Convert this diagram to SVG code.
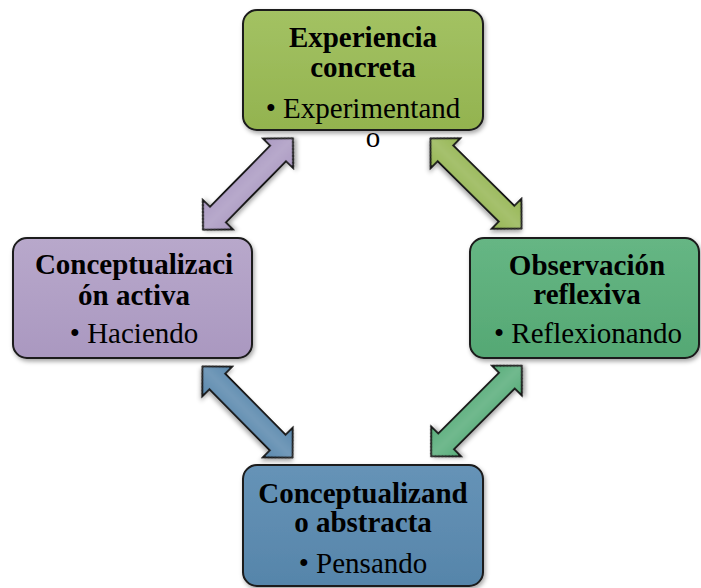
<svg xmlns="http://www.w3.org/2000/svg" width="701" height="588" viewBox="0 0 701 588">
<defs>
<style>
.box{stroke:#1a1a1a;stroke-width:2}
.hl{stroke:#ffffff;stroke-width:3;stroke-linecap:round;opacity:0.85;filter:url(#blur)}
.t{font-family:"Liberation Serif","Times New Roman",serif;font-size:29px;fill:#000;text-anchor:middle}
.b{font-weight:bold}
.arr{stroke:#111;stroke-width:1.8;stroke-linejoin:miter}
</style>
<filter id="sh" x="-10%" y="-10%" width="125%" height="130%">
<feDropShadow dx="1.5" dy="2.5" stdDeviation="2" flood-color="#000" flood-opacity="0.35"/>
</filter>
<filter id="blur"><feGaussianBlur stdDeviation="1"/></filter>
<linearGradient id="gGreen" x1="0" y1="0" x2="0" y2="1"><stop offset="0" stop-color="#a3c263"/><stop offset="1" stop-color="#93b34f"/></linearGradient>
<linearGradient id="gPurple" x1="0" y1="0" x2="0" y2="1"><stop offset="0" stop-color="#b8a8cb"/><stop offset="1" stop-color="#aa98c0"/></linearGradient>
<linearGradient id="gTeal" x1="0" y1="0" x2="0" y2="1"><stop offset="0" stop-color="#66b684"/><stop offset="1" stop-color="#55a874"/></linearGradient>
<linearGradient id="gBlue" x1="0" y1="0" x2="0" y2="1"><stop offset="0" stop-color="#6693b7"/><stop offset="1" stop-color="#5685aa"/></linearGradient>
<linearGradient id="aGloss" x1="0" y1="0" x2="0" y2="1"><stop offset="0" stop-color="#fff" stop-opacity="0"/><stop offset="0.5" stop-color="#fff" stop-opacity="0.15"/><stop offset="1" stop-color="#fff" stop-opacity="0"/></linearGradient>
<polygon id="dbl" points="-64,0 -43,-21 -43,-11 43,-11 43,-21 64,0 43,21 43,11 -43,11 -43,21"/>
</defs>

<g id="connectors">
<g transform="translate(248,184) rotate(-45.5)" filter="url(#sh)"><use href="#dbl" class="arr" fill="#ab9ac2"/><use href="#dbl" fill="url(#aGloss)"/></g>
<g transform="translate(476,183.5) rotate(44.7)" filter="url(#sh)"><use href="#dbl" class="arr" fill="#96b654"/><use href="#dbl" fill="url(#aGloss)"/></g>
<g transform="translate(247.5,412) rotate(45.3)" filter="url(#sh)"><use href="#dbl" class="arr" fill="#5a88ad"/><use href="#dbl" fill="url(#aGloss)"/></g>
<g transform="translate(476.5,411) rotate(-45)" filter="url(#sh)"><use href="#dbl" class="arr" fill="#58ad7a"/><use href="#dbl" fill="url(#aGloss)"/></g>
</g>

<g id="experiencia">
<rect x="243" y="10" width="240" height="120" rx="14" class="box" fill="url(#gGreen)" filter="url(#sh)"/>
<line x1="251" y1="25" x2="251" y2="116" class="hl"/>
<line x1="475" y1="25" x2="475" y2="116" class="hl"/>
<text class="t b" x="363" y="47">Experiencia</text>
<text class="t b" x="363" y="77">concreta</text>
<text class="t" x="363" y="118">• Experimentand</text>
<text class="t" x="373" y="147">o</text>
</g>

<g id="conceptualizacion">
<rect x="13" y="238" width="239" height="120" rx="14" class="box" fill="url(#gPurple)" filter="url(#sh)"/>
<line x1="21" y1="253" x2="21" y2="344" class="hl"/>
<line x1="244" y1="253" x2="244" y2="344" class="hl"/>
<text class="t b" x="134" y="274">Conceptualizaci</text>
<text class="t b" x="134" y="305">ón activa</text>
<text class="t" x="134" y="343">• Haciendo</text>
</g>

<g id="observacion">
<rect x="470" y="238" width="229" height="120" rx="14" class="box" fill="url(#gTeal)" filter="url(#sh)"/>
<line x1="478" y1="253" x2="478" y2="344" class="hl"/>
<line x1="691" y1="253" x2="691" y2="344" class="hl"/>
<text class="t b" x="587" y="275">Observación</text>
<text class="t b" x="587" y="304">reflexiva</text>
<text class="t" x="588" y="343">• Reflexionando</text>
</g>

<g id="abstracta">
<rect x="243" y="465" width="240" height="121" rx="14" class="box" fill="url(#gBlue)" filter="url(#sh)"/>
<line x1="251" y1="480" x2="251" y2="572" class="hl"/>
<line x1="475" y1="480" x2="475" y2="572" class="hl"/>
<text class="t b" x="363" y="503">Conceptualizand</text>
<text class="t b" x="363" y="532">o abstracta</text>
<text class="t" x="363" y="573">• Pensando</text>
</g>
</svg>
